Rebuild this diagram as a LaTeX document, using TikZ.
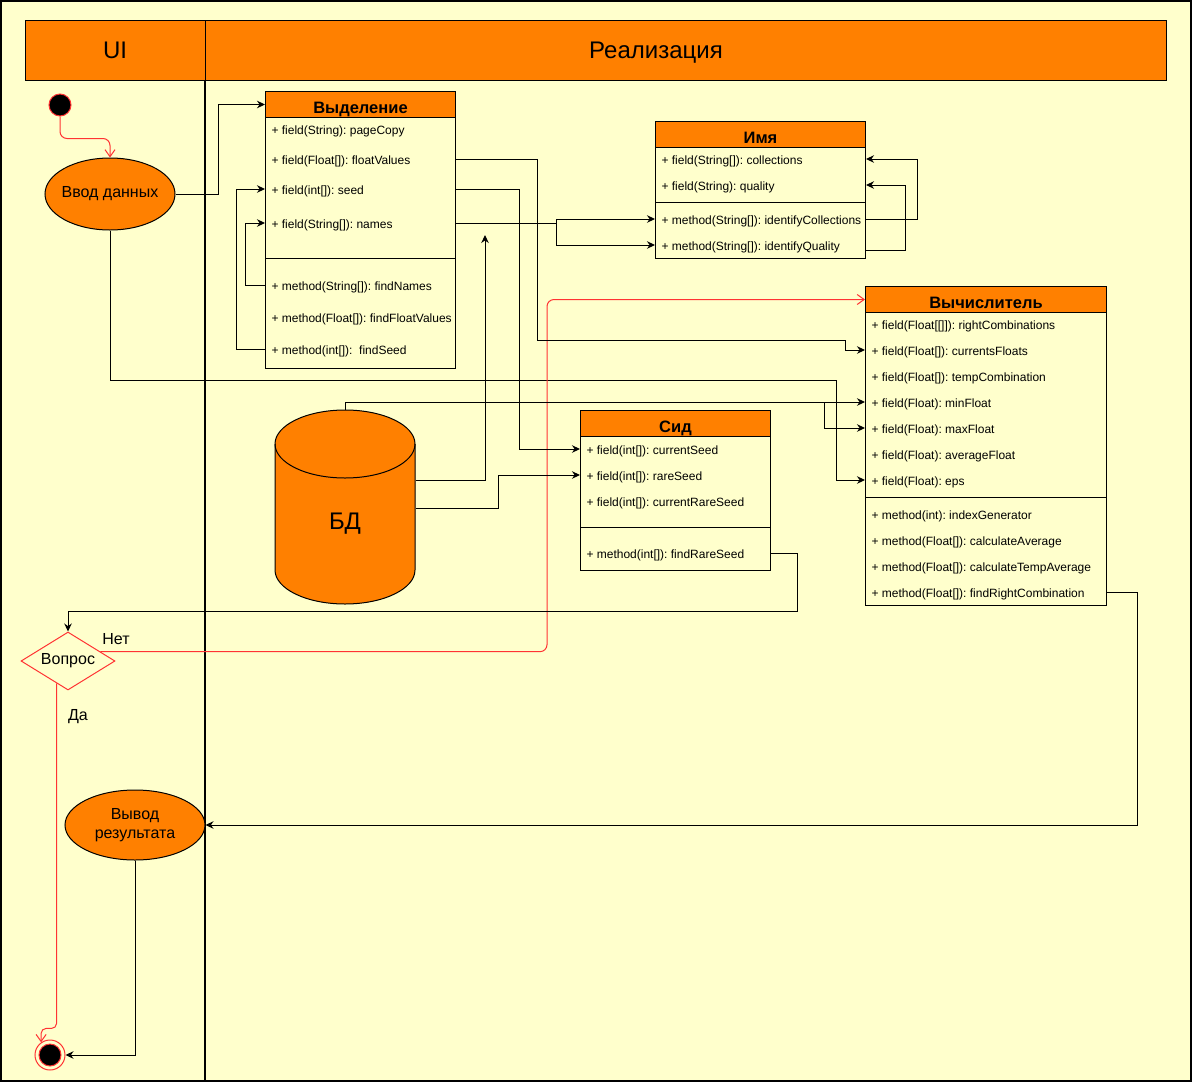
\documentclass[tikz,border=0pt]{standalone}
\usepackage{fontspec}
\setmainfont{Liberation Sans}
\usetikzlibrary{arrows.meta, positioning, shapes.geometric}
\definecolor{draworange}{HTML}{FF8000}
\definecolor{bgyellow}{HTML}{FFFFCC}
\definecolor{flowred}{HTML}{FF3333}
\frenchspacing
\tikzset{%
	flow/.style={draw=black, line width=1pt, -{Stealth[length=8pt,width=7.5pt]}},
	redflow/.style={draw=flowred, line width=1pt, rounded corners=7pt, -{Straight Barb[length=7pt,width=10pt]}},
	lanetitle/.style={text height=17.5pt, text depth=0pt, inner sep=0pt, font=\fontsize{24}{28}\selectfont},
	classbox/.style={rectangle, draw, line width=1pt, fill=bgyellow, anchor=north west, inner sep=0pt},
	classhead/.style={rectangle, draw, line width=1pt, fill=draworange, anchor=north west,
		minimum height=26pt, inner sep=0pt, text height=17pt, text depth=0pt, font=\fontsize{16.5}{18}\selectfont\bfseries},
	member/.style={rectangle, anchor=west, inner xsep=6pt, inner ysep=2pt,
		text height=11pt, text depth=1pt, font=\fontsize{12}{14}\selectfont},
	activity/.style={ellipse, draw, line width=1pt, fill=draworange, align=center,
		inner sep=0pt, font=\fontsize{16}{19}\selectfont},
	decision/.style={diamond, draw=flowred, line width=1pt, aspect=1.62, inner sep=0pt,
		minimum width=94pt, minimum height=58pt, font=\fontsize{16}{19}\selectfont},
	startnode/.style={circle, draw=flowred, fill=black, line width=1pt, minimum size=22pt, inner sep=0pt},
	endnode/.style={circle, draw=flowred, line width=1pt, minimum size=30pt, inner sep=0pt},
	dbnode/.style={rectangle, minimum width=140pt, minimum height=160pt, font=\fontsize{24}{28}\selectfont},
	edgelabel/.style={inner sep=0pt, font=\fontsize{16}{19}\selectfont},
}
\begin{document}
\begin{tikzpicture}[x=1pt, y=-1pt, line width=1pt]
\useasboundingbox (0,0) rectangle (1192,1082);
% background and swimlanes
\draw[fill=bgyellow, line width=2pt] (1,1) rectangle (1191,1081);
\draw[fill=draworange] (25,20) rectangle (1166,80);
\draw (205,20) -- (205,80);
\draw[line width=2pt] (205,80) -- (205,1081);
\node[lanetitle] (ui) at (115,50) {UI};
\node[lanetitle] (impl) at (656,50) {Реализация};

% UI lane
\node[startnode] (start) at (60,105) {};
\node[activity, inner xsep=-6pt, minimum width=130pt, minimum height=72pt] (input) at (110,194) {Ввод данных};
\node[decision] (ask) at (68,661) {Вопрос};
\node[activity, minimum width=140pt, minimum height=70pt] (output) at (135,825) {Вывод\\результата};
\node[endnode] (fin) at (50,1055) {};
\fill[black, draw=flowred] (fin.center) circle (11pt);
\node[edgelabel] (no) at (116,639) {Нет};
\node[edgelabel] (yes) at (78,717) {Да};

% class Выделение
\node[classbox, minimum width=190pt, minimum height=277pt] (selbox) at (265,91) {};
\node[classhead, minimum width=190pt] (sel) at (265,91) {Выделение};
\node[member] (sel-page) at (265,129) {+ field(String): pageCopy};
\node[member] (sel-floats) at (265,159) {+ field(Float[]): floatValues};
\node[member] (sel-seed) at (265,189) {+ field(int[]): seed};
\node[member] (sel-names) at (265,223) {+ field(String[]): names};
\draw (265,258) -- (455,258);
\node[member] (sel-findnames) at (265,285) {+ method(String[]): findNames};
\node[member] (sel-findfloats) at (265,317) {+ method(Float[]): findFloatValues};
\node[member] (sel-findseed) at (265,349) {+ method(int[]):~ findSeed};

% class Имя
\node[classbox, minimum width=210pt, minimum height=137pt] (imyabox) at (655,121) {};
\node[classhead, minimum width=210pt] (imya) at (655,121) {Имя};
\node[member] (imya-coll) at (655,159) {+ field(String[]): collections};
\node[member] (imya-qual) at (655,185) {+ field(String): quality};
\draw (655,202) -- (865,202);
\node[member] (imya-idcoll) at (655,219) {+ method(String[]): identifyCollections};
\node[member] (imya-idqual) at (655,245) {+ method(String[]): identifyQuality};

% class Вычислитель
\node[classbox, minimum width=241pt, minimum height=319pt] (calcbox) at (865,286) {};
\node[classhead, minimum width=241pt] (calc) at (865,286) {Вычислитель};
\node[member] (calc-right) at (865,324) {+ field(Float[[]]): rightCombinations};
\node[member] (calc-cur) at (865,350) {+ field(Float[]): currentsFloats};
\node[member] (calc-temp) at (865,376) {+ field(Float[]): tempCombination};
\node[member] (calc-min) at (865,402) {+ field(Float): minFloat};
\node[member] (calc-max) at (865,428) {+ field(Float): maxFloat};
\node[member] (calc-avg) at (865,454) {+ field(Float): averageFloat};
\node[member] (calc-eps) at (865,480) {+ field(Float): eps};
\draw (865,497) -- (1106,497);
\node[member] (calc-index) at (865,514) {+ method(int): indexGenerator};
\node[member] (calc-avgm) at (865,540) {+ method(Float[]): calculateAverage};
\node[member] (calc-tempm) at (865,566) {+ method(Float[]): calculateTempAverage};
\node[member] (calc-find) at (865,592) {+ method(Float[]): findRightCombination};

% class Сид
\node[classbox, minimum width=190pt, minimum height=160pt] (sidbox) at (580,410) {};
\node[classhead, minimum width=190pt] (sid) at (580,410) {Сид};
\node[member] (sid-cur) at (580,449) {+ field(int[]): currentSeed};
\node[member] (sid-rare) at (580,475) {+ field(int[]): rareSeed};
\node[member] (sid-currare) at (580,501) {+ field(int[]): currentRareSeed};
\draw (580,527) -- (770,527);
\node[member] (sid-find) at (580,553) {+ method(int[]): findRareSeed};

% database
\draw[fill=draworange] (275,444) -- (275,570)
	arc[start angle=180, end angle=360, x radius=70pt, y radius=34pt] -- (415,444)
	arc[start angle=0, end angle=180, x radius=70pt, y radius=34pt] -- cycle;
\draw (275,444) arc[start angle=180, end angle=360, x radius=70pt, y radius=34pt];
\node[dbnode] (db) at (345,524) {БД};
\coordinate (dbtip) at (485,235);
\coordinate (dbsplit) at (824,402);

% control flow
\draw[redflow] (start.south) -- ++(0,22) -| (input.north);
\draw[flow] (input.east) -- ++(43,0) |- (sel.west);
\draw[flow] (input.south) -- ++(0,150) -- ++(726,0) |- (calc-eps.west);
\draw[redflow] (ask.16) -| ([xshift=-318pt]calc.west) -- (calc.west);
\draw[redflow, rounded corners=5pt] (ask.243) -- ++(0,345) -| (fin.125);
\draw[flow] (sid-find.east -| sidbox.east) -- ++(26,0) -- ++(0,58) -| (ask.north);
\draw[flow] (calc-find.east -| calcbox.east) -- ++(30,0) |- (output.east);
\draw[flow] (output.south) |- (fin.east);

% inside the classes
\draw[flow] (sel-findseed.west) -- ++(-29,0) |- (sel-seed.west);
\draw[flow] (sel-findnames.west) -- ++(-20,0) |- (sel-names.west);
\draw[flow] (sel-floats.east -| selbox.east) -- ++(81,0) |- (845,340) |- (calc-cur.west);
\draw[flow] (sel-seed.east -| selbox.east) -- ++(63,0) |- (sid-cur.west);
\draw (sel-names.east -| selbox.east) -- ++(100,0) coordinate (split);
\draw[flow] (split) |- (imya-idcoll.west);
\draw[flow] (split) |- (imya-idqual.west);
\draw[flow] (imya-idcoll.east -| imyabox.east) -- ++(51,0) |- (imya-coll.east -| imyabox.east);
\draw[flow] ([yshift=-5pt]imya-idqual.east -| imyabox.east) -- ++(39,0) |- (imya-qual.east -| imyabox.east);

% database links
\draw[flow] ([yshift=34pt]db.north) |- (calc-min.west);
\draw[flow] (dbsplit) |- (calc-max.west);
\draw[flow] ([yshift=44pt]db.east) -| (dbtip);
\draw[flow] ([yshift=16pt]db.east) -- ++(83,0) |- (sid-rare.west);
\end{tikzpicture}
\end{document}
